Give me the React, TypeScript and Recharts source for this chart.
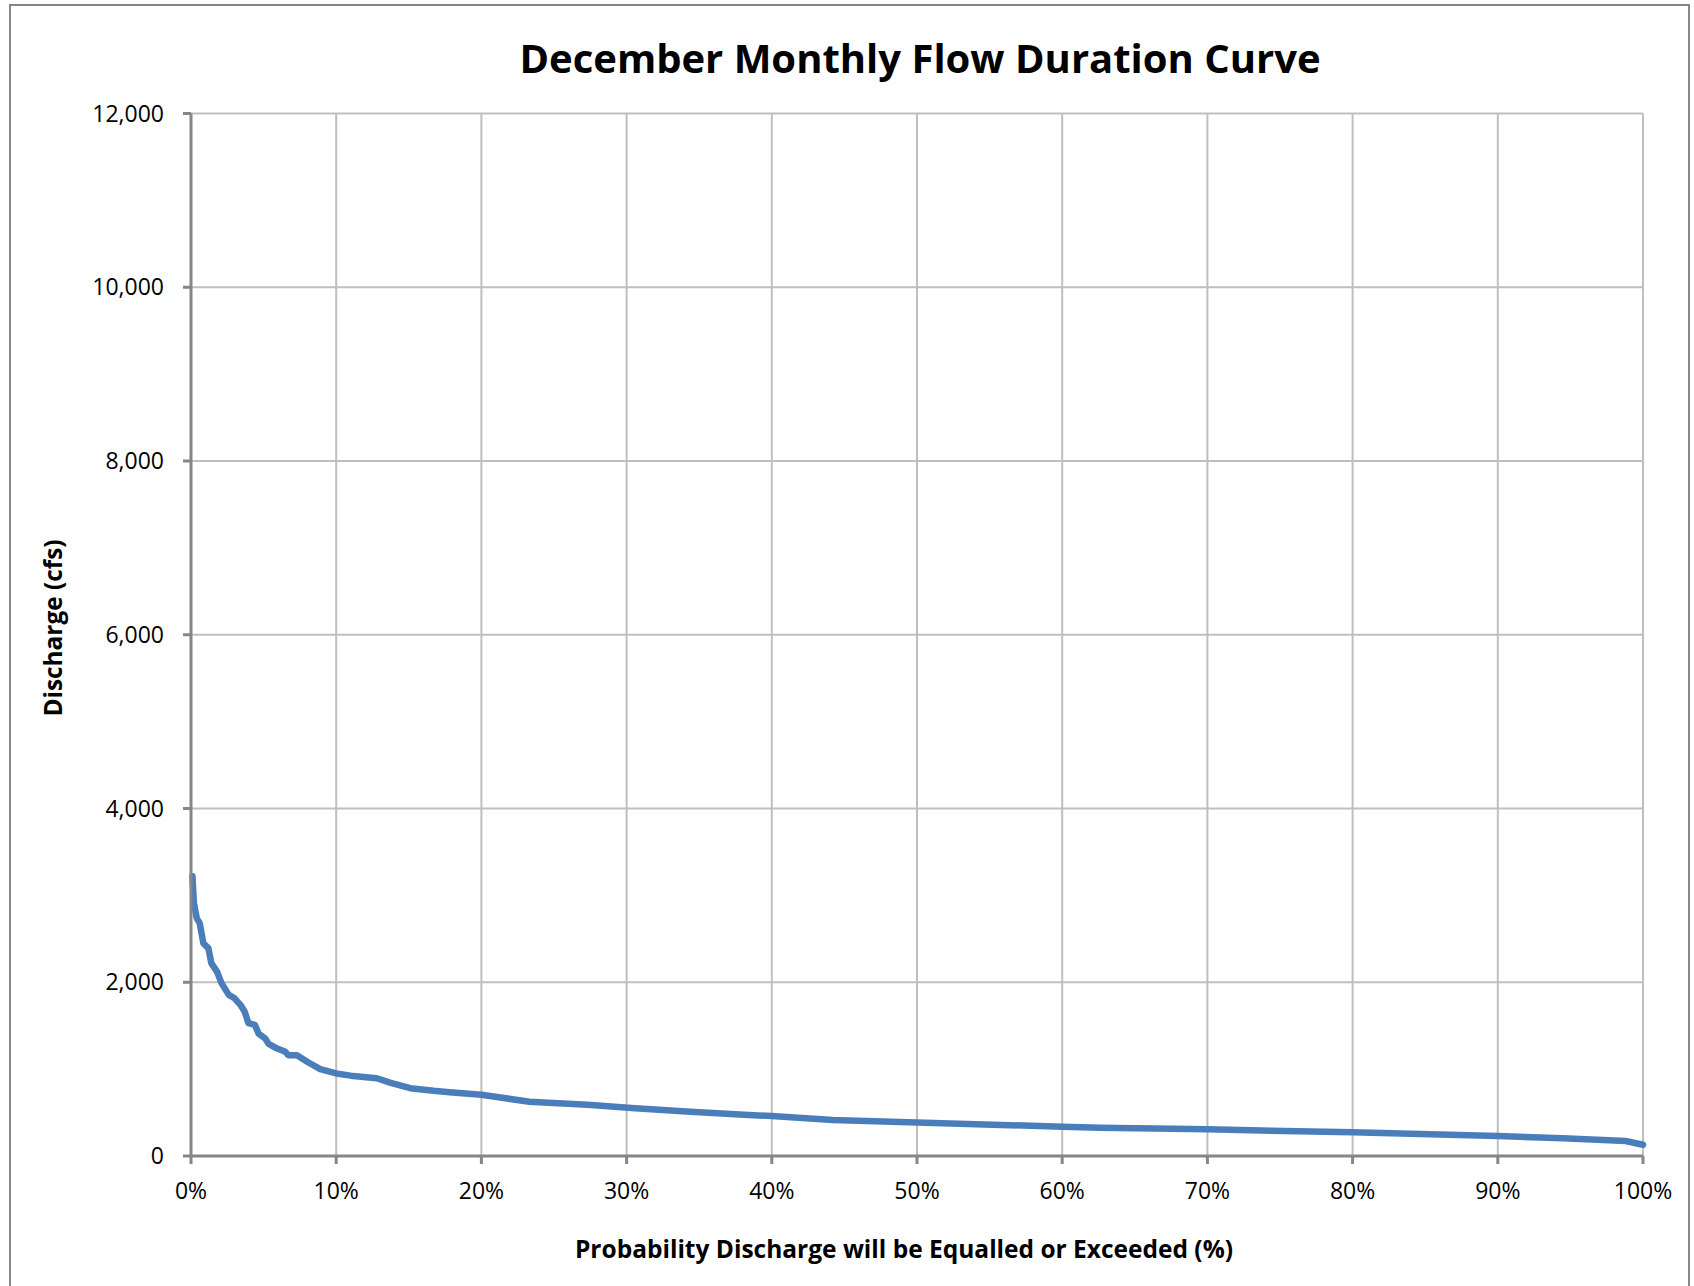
import { LineChart, Line, XAxis, YAxis, CartesianGrid } from "recharts";

// % of time the discharge is equalled or exceeded
const exceedance = [
  0.1, 0.2, 0.4, 0.6, 0.85, 1.2, 1.4, 1.8, 2.1, 2.6, 3.0, 3.4, 3.7, 3.95, 4.4, 4.65, 5.1, 5.35, 5.9, 6.5,
  6.7, 7.3, 8.0, 8.9, 10.0, 11.0, 12.8, 13.7, 15.1, 16.7, 17.8, 20.0, 23.3, 27.3, 30.6, 34.4, 38.4, 40.0,
  44.2, 50.0, 60.0, 62.6, 70.0, 80.0, 90.0, 94.5, 98.8, 100,
];
// discharge in cfs
const discharge = [
  3220, 2910, 2735, 2680, 2450, 2390, 2220, 2120, 1990, 1855, 1815, 1740, 1660, 1530, 1510, 1410, 1355, 1290,
  1240, 1200, 1160, 1160, 1085, 1000, 950, 925, 895, 845, 780, 750, 735, 705, 625, 590, 550, 510, 472, 460,
  415, 387, 337, 326, 307, 272, 230, 203, 173, 130,
];
const xTicks = [0, 10, 20, 30, 40, 50, 60, 70, 80, 90, 100];
const yTicks = [0, 2000, 4000, 6000, 8000, 10000, 12000];

const title = "December Monthly Flow Duration Curve";
const xTitle = "Probability Discharge will be Equalled or Exceeded (%)";
const yTitle = "Discharge (cfs)";

const data = exceedance.map((p, i) => ({ p, q: discharge[i] }));

const FONT = "'Open Sans', sans-serif";
const AXIS = "#868686";

export default function App() {
  return (
    <div style={{ position: "absolute", left: 0, top: 0, width: 1694, height: 1286, background: "#fff", overflow: "hidden" }}>
      <div
        style={{
          position: "absolute",
          left: 9,
          top: 4,
          width: 1681,
          height: 1300,
          border: `2px solid ${AXIS}`,
          boxSizing: "border-box",
        }}
      />
      <LineChart
        width={1694}
        height={1286}
        data={data}
        margin={{ top: 113.5, right: 51, bottom: 70, left: 91 }}
        style={{ position: "absolute", left: 0, top: 0 }}
      >
        <CartesianGrid stroke="#bfbfbf" strokeWidth={2} />
        <XAxis
          type="number"
          dataKey="p"
          domain={[0, 100]}
          ticks={xTicks}
          interval={0}
          height={60}
          tickFormatter={(v: number) => `${v}%`}
          tick={{ fontSize: 23, fill: "#000", fontFamily: FONT }}
          tickSize={8}
          tickMargin={19}
          stroke={AXIS}
          strokeWidth={3}
        />
        <YAxis
          type="number"
          domain={[0, 12000]}
          ticks={yTicks}
          interval={0}
          width={100}
          tickFormatter={(v: number) => v.toLocaleString("en-US")}
          tick={{ fontSize: 23, fill: "#000", fontFamily: FONT }}
          tickSize={8}
          tickMargin={19}
          stroke={AXIS}
          strokeWidth={3}
        />
        <Line
          type="linear"
          dataKey="q"
          stroke="#4a7ebb"
          style={{ strokeWidth: 6.5 }}
          strokeWidth={6.5}
          strokeLinejoin="round"
          strokeLinecap="round"
          dot={false}
          isAnimationActive={false}
        />
      </LineChart>
      <svg width={1694} height={1286} style={{ position: "absolute", left: 0, top: 0, pointerEvents: "none" }}>
        <text x={920} y={73} textAnchor="middle" fontFamily={FONT} fontWeight={700} fontSize={40} fill="#000">
          {title}
        </text>
        <text x={904} y={1258} textAnchor="middle" fontFamily={FONT} fontWeight={700} fontSize={24.5} fill="#000">
          {xTitle}
        </text>
        <text
          x={0}
          y={0}
          transform="translate(62 628) rotate(-90)"
          textAnchor="middle"
          fontFamily={FONT}
          fontWeight={700}
          fontSize={24.4}
          fill="#000"
        >
          {yTitle}
        </text>
      </svg>
    </div>
  );
}
